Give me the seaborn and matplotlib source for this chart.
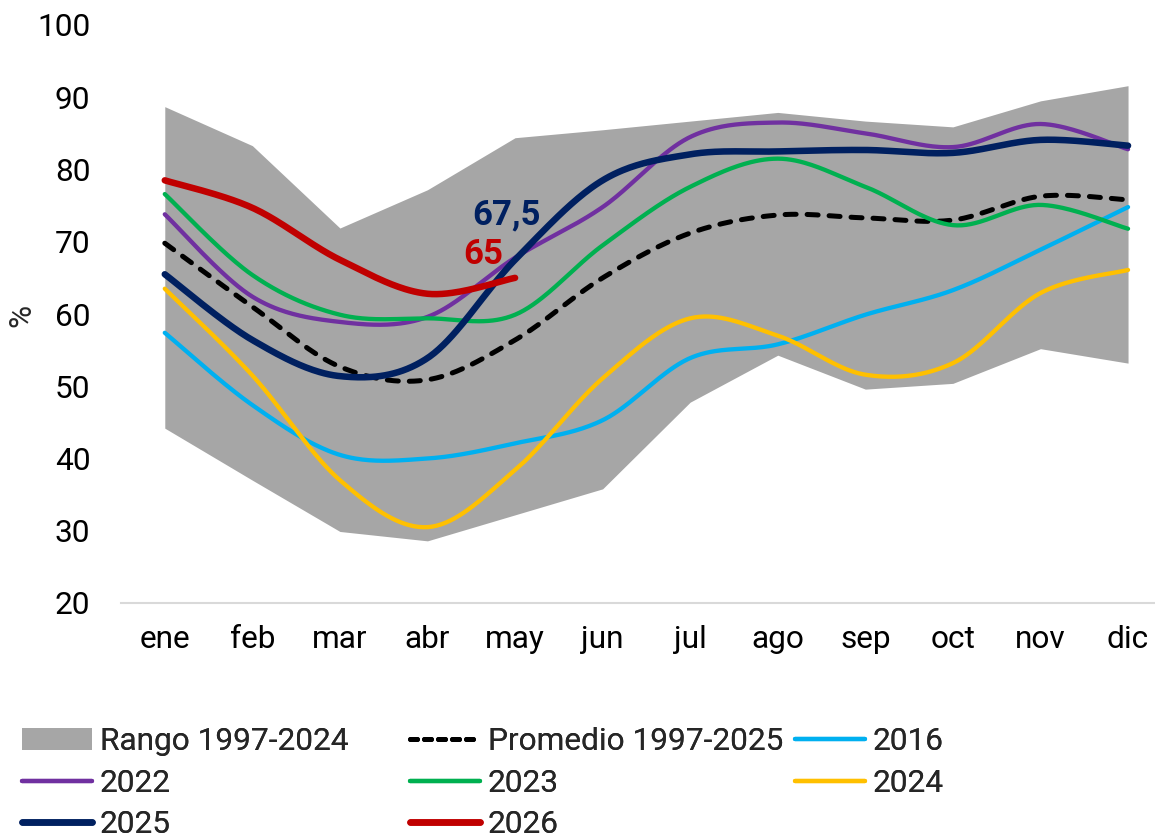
import numpy as np
import matplotlib
matplotlib.use("Agg")
import matplotlib.pyplot as plt
from matplotlib.patches import Patch
from matplotlib.lines import Line2D
import seaborn as sns

# Data
meses = ["ene", "feb", "mar", "abr", "may", "jun", "jul", "ago", "sep", "oct", "nov", "dic"]
rango_max = [88.7, 83.3, 71.9, 77.2, 84.4, 85.5, 86.7, 87.9, 86.7, 85.9, 89.5, 91.6]
rango_min = [44.2, 37.0, 29.9, 28.6, 32.2, 35.8, 47.8, 54.3, 49.6, 50.4, 55.2, 53.2]
promedio = [69.8, 61.0, 52.7, 50.9, 56.4, 65.0, 71.2, 73.7, 73.3, 73.0, 76.3, 75.8]
y2016 = [57.4, 47.4, 40.5, 40.0, 42.1, 45.3, 53.9, 55.8, 59.9, 63.3, 68.9, 74.8]
y2022 = [73.8, 62.4, 58.9, 59.6, 67.8, 74.8, 84.5, 86.5, 85.0, 83.1, 86.3, 82.8]
y2023 = [76.6, 65.4, 59.9, 59.4, 59.9, 69.5, 77.6, 81.5, 77.6, 72.3, 75.1, 71.8]
y2024 = [63.5, 51.5, 37.0, 30.5, 38.4, 51.1, 59.4, 57.0, 51.6, 53.2, 62.9, 66.1]
y2025 = [65.5, 56.4, 51.4, 53.9, 67.5, 78.5, 82.1, 82.5, 82.7, 82.3, 84.1, 83.3]
y2026 = [78.5, 74.7, 67.5, 62.8, 65.0]

C_RANGO = "#a6a6a6"
C_2016 = "#00b0f0"
C_2022 = "#7030a0"
C_2023 = "#00b050"
C_2024 = "#ffc000"
C_2025 = "#002060"
C_2026 = "#c00000"

FS = 22.8
LW_THIN = 3.1
LW_THICK = 4.7


def smooth(values, steps=40):
    """Excel-style smoothed line (cubic Bezier through the points)."""
    y = np.asarray(values, dtype=float)
    x = np.arange(len(y), dtype=float)
    n = len(y)
    xs, ys = [], []
    t = np.linspace(0, 1, steps)
    for i in range(n - 1):
        i0 = max(i - 1, 0)
        i3 = min(i + 2, n - 1)
        p0 = np.array([x[i], y[i]])
        p1 = np.array([x[i + 1], y[i + 1]])
        c1 = p0 + (p1 - np.array([x[i0], y[i0]])) / 6
        c2 = p1 - (np.array([x[i3], y[i3]]) - p0) / 6
        b = ((1 - t) ** 3)[:, None] * p0 + (3 * (1 - t) ** 2 * t)[:, None] * c1 \
            + (3 * (1 - t) * t ** 2)[:, None] * c2 + (t ** 3)[:, None] * p1
        xs.extend(b[:, 0])
        ys.extend(b[:, 1])
    return np.array(xs), np.array(ys)


sns.set_theme(style="white")
plt.rcParams["font.family"] = ["Roboto", "DejaVu Sans"]

fig = plt.figure(figsize=(11.55, 8.4), dpi=100)
ax = fig.add_axes([121 / 1155, 1 - 603 / 840, 1 - 121 / 1155, (603 - 25) / 840])

idx = np.arange(len(meses))
ax.fill_between(idx, rango_min, rango_max, color=C_RANGO, lw=0, zorder=1)

series = [
    (promedio, "black", 3.6, True),
    (y2016, C_2016, LW_THIN, False),
    (y2022, C_2022, LW_THIN, False),
    (y2023, C_2023, LW_THIN, False),
    (y2024, C_2024, LW_THIN, False),
    (y2025, C_2025, LW_THICK, False),
    (y2026, C_2026, LW_THICK, False),
]
for k, (vals, col, lw, dashed) in enumerate(series):
    sx, sy = smooth(vals)
    line = sns.lineplot(x=sx, y=sy, ax=ax, color=col, lw=lw, sort=False,
                        zorder=2 + k).lines[-1]
    line.set_solid_capstyle("round")
    if dashed:
        line.set_dashes((2.2, 2.2))
        line.set_dash_capstyle("round")

# Value labels for the last points
ax.annotate("67,5", xy=(4, y2025[4]), xytext=(-6, 32), textcoords="offset points",
            ha="center", va="center", fontsize=25, fontweight="bold", color=C_2025, zorder=20)
ax.annotate("65", xy=(4, y2026[4]), xytext=(-23, 17), textcoords="offset points",
            ha="center", va="center", fontsize=25, fontweight="bold", color=C_2026, zorder=20)

ax.set_xlim(-0.5, (1155 - 165) / 87.55)
ax.set_ylim(20, 100)
ax.set_yticks(range(20, 101, 10))
ax.set_xticks(idx)
ax.set_xticklabels(meses)
ax.tick_params(axis="both", length=0, labelsize=FS, colors="black")
ax.tick_params(axis="x", pad=16)
ax.tick_params(axis="y", pad=22)
ax.set_xlabel("")
ax.set_ylabel("")
for s in ["top", "right", "left"]:
    ax.spines[s].set_visible(False)
ax.spines["bottom"].set_color("#d9d9d9")
ax.spines["bottom"].set_linewidth(1.5)
ax.grid(False)

fig.text(22 / 1155, 1 - 315 / 840, "%", rotation=90, ha="center", va="center", fontsize=FS)

# Legend in three columns, placed like the original
h_rango = Patch(facecolor=C_RANGO, edgecolor="none")
h_prom = Line2D([], [], color="black", lw=3.6, dashes=(1.4, 1.4), dash_capstyle="round")


def leg_line(c, lw):
    return Line2D([], [], color=c, lw=lw, solid_capstyle="round")


cols = [
    ([h_rango, leg_line(C_2022, LW_THIN), leg_line(C_2025, LW_THICK)], ["Rango 1997-2024", "2022", "2025"], 22),
    ([h_prom, leg_line(C_2023, LW_THIN), leg_line(C_2026, LW_THICK)], ["Promedio 1997-2025", "2023", "2026"], 410),
    ([leg_line(C_2016, LW_THIN), leg_line(C_2024, LW_THIN)], ["2016", "2024"], 795),
]
for handles, labels, xpx in cols:
    leg = fig.legend(handles, labels, loc="upper left", bbox_to_anchor=(xpx / 1155, 1 - 727 / 840),
                     frameon=False, fontsize=FS, borderpad=0, borderaxespad=0,
                     handlelength=2.2, handletextpad=0.25, labelspacing=0.4, handleheight=0.7)
    fig.add_artist(leg)

fig.savefig("out.png", dpi=100)
